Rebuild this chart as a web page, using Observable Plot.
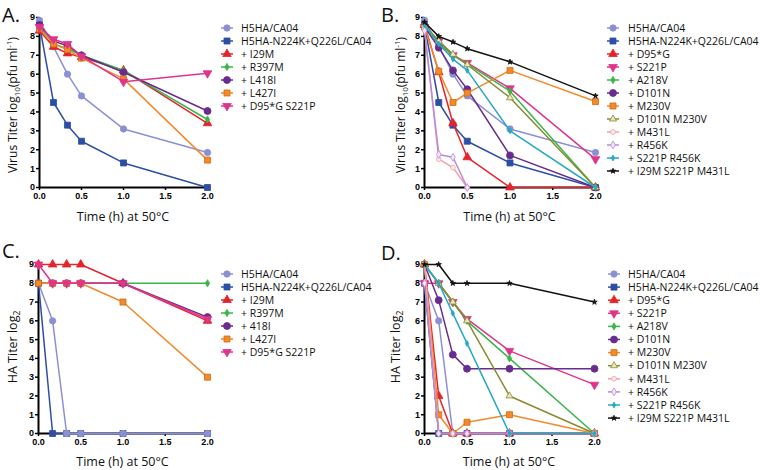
<!DOCTYPE html>
<html><head><meta charset="utf-8">
<script src="https://cdn.jsdelivr.net/npm/d3@7"></script>
<script src="https://cdn.jsdelivr.net/npm/@observablehq/plot@0.6"></script>
<style>
body{margin:0;background:#fff;}
#fig{position:relative;width:760px;height:470px;overflow:hidden;}
.panel{position:absolute;}
#overlay{position:absolute;left:0;top:0;}
</style></head><body><div id="fig"></div>
<script>
// ---- data ----
const times = [0, 0.167, 0.333, 0.5, 1.0, 2.0];
const xTicks = [0, 0.5, 1.0, 1.5, 2.0];
const yTicks = [0, 1, 2, 3, 4, 5, 6, 7, 8, 9];

const namesA = ["H5HA/CA04","H5HA-N224K+Q226L/CA04","+ I29M","+ R397M","+ L418I","+ L427I","+ D95*G S221P"];
const valuesA = [
  [8.85, 7.45, 6.0, 4.85, 3.1, 1.85],
  [8.6, 4.5, 3.3, 2.45, 1.3, 0.0],
  [8.3, 7.45, 7.1, 6.9, 6.2, 3.4],
  [8.5, 7.6, 7.35, 7.0, 6.2, 3.6],
  [8.6, 7.75, 7.5, 7.0, 6.1, 4.05],
  [8.4, 7.6, 7.3, 6.85, 5.75, 1.45],
  [8.5, 7.85, 7.6, 6.95, 5.6, 6.05]
];

const namesB = ["H5HA/CA04","H5HA-N224K+Q226L/CA04","+ D95*G","+ S221P","+ A218V","+ D101N","+ M230V","+ D101N M230V","+ M431L","+ R456K","+ S221P R456K","+ I29M S221P M431L"];
const valuesB = [
  [8.85, 7.5, 6.0, 4.85, 3.1, 1.85],
  [8.6, 4.5, 3.3, 2.45, 1.3, 0.0],
  [8.6, 6.1, 3.4, 1.6, 0.0, 0.0],
  [8.5, 7.75, 7.0, 6.6, 5.25, 1.5],
  [8.6, 7.6, 7.0, 6.55, 5.1, 0.0],
  [8.5, 7.4, 6.2, 5.2, 1.7, 0.0],
  [8.5, 6.15, 4.5, 5.0, 6.2, 4.55],
  [8.6, 7.75, 7.05, 6.5, 4.75, 0.0],
  [8.4, 1.5, 1.05, 0.0, null, null],
  [8.3, 1.75, 1.6, 0.0, null, null],
  [8.6, 7.6, 6.8, 6.2, 3.0, 0.0],
  [8.75, 8.0, 7.7, 7.35, 6.65, 4.85]
];

const namesC = ["H5HA/CA04","H5HA-N224K+Q226L/CA04","+ I29M","+ R397M","+ 418I","+ L427I","+ D95*G S221P"];
const valuesC = [
  [8, 6, 0, 0, 0, 0],
  [8, 0, 0, 0, 0, 0],
  [9, 9, 9, 9, 8, 6],
  [8, 8, 8, 8, 8, 8],
  [8, 8, 8, 8, 8, 6.2],
  [8, 8, 8, 8, 7, 3],
  [9, 8, 8, 8, 8, 6.1]
];

const namesD = namesB;
const valuesD = [
  [8, 6, 0, 0, 0, 0],
  [8, 0, 0, 0, 0, 0],
  [9, 2, 0, 0, 0, 0],
  [8, 8, 7, 6.1, 4.4, 2.6],
  [9, 8, 7, 6, 4, 0],
  [9, 7.1, 4.2, 3.45, 3.45, 3.45],
  [9, 1, 0, 0.6, 1, 0],
  [9, 8, 7, 6, 2, 0],
  [9, 0, 0, 0, 0, 0],
  [8, 0, 0, 0, 0, 0],
  [9, 8, 6.4, 4.8, 0, 0],
  [9, 9, 8, 8, 8, 7]
];

// ---- styles ----
const sqrt3 = Math.sqrt(3);
const symbolTriangleDown = {draw(ctx, size){
  const y = -Math.sqrt(size / (sqrt3 * 3));
  ctx.moveTo(0, -y * 2); ctx.lineTo(-sqrt3 * y, y); ctx.lineTo(sqrt3 * y, y); ctx.closePath();
}};
const C = {lpurple:"#8c90d3", blue:"#2d4ea5", red:"#e3242b", green:"#3cb44b", purple:"#672c8e",
  orange:"#f28a2b", magenta:"#e0348a", olive:"#8a8a30", pink:"#f2a0a8", lavender:"#b88ad8", teal:"#27a8c2", black:"#111"};
const style = {
  "H5HA/CA04": {color:C.lpurple, symbol:d3.symbolCircle, r:3.2},
  "H5HA-N224K+Q226L/CA04": {color:C.blue, symbol:d3.symbolSquare, r:3.4},
  "+ I29M": {color:C.red, symbol:d3.symbolTriangle, r:3.2},
  "+ D95*G": {color:C.red, symbol:d3.symbolTriangle, r:3.2},
  "+ R397M": {color:C.green, symbol:d3.symbolDiamond, r:2.2},
  "+ A218V": {color:C.green, symbol:d3.symbolDiamond, r:2.2},
  "+ L418I": {color:C.purple, symbol:d3.symbolCircle, r:3.5},
  "+ 418I": {color:C.purple, symbol:d3.symbolCircle, r:3.5},
  "+ D101N": {color:C.purple, symbol:d3.symbolCircle, r:3.5},
  "+ L427I": {color:C.orange, symbol:d3.symbolSquare, r:3.4, stroke:"#d26b12"},
  "+ M230V": {color:C.orange, symbol:d3.symbolSquare, r:3.4, stroke:"#d26b12"},
  "+ D95*G S221P": {color:C.magenta, symbol:symbolTriangleDown, r:3.2},
  "+ S221P": {color:C.magenta, symbol:symbolTriangleDown, r:3.2},
  "+ D101N M230V": {color:C.olive, symbol:d3.symbolTriangle, r:2.6, fill:"#e8e6c0"},
  "+ M431L": {color:C.pink, symbol:d3.symbolCircle, r:2.4, fill:"#fde8ea"},
  "+ R456K": {color:C.lavender, symbol:d3.symbolDiamond, r:2.4, fill:"#f1e6fa"},
  "+ S221P R456K": {color:C.teal, symbol:d3.symbolDiamond, r:1.8},
  "+ I29M S221P M431L": {color:C.black, symbol:d3.symbolStar, r:1.7}
};

const fig = document.getElementById("fig");

function makePanel(names, values, order, left, top, m) {
  const marks = [
    Plot.ruleX([0], {stroke:"#000", strokeWidth:2}),
    Plot.ruleY([0], {stroke:"#000", strokeWidth:2}),
    Plot.axisX({ticks:xTicks, tickFormat:d3.format(".1f"), tickSize:3, tickPadding:2, strokeWidth:1.5,
      fontWeight:"bold", fontSize:9, label:null}),
    Plot.axisY({ticks:yTicks, tickSize:3, tickPadding:1.5, strokeWidth:1.5,
      fontWeight:"bold", fontSize:9, label:null})
  ];
  order.forEach(i => {
    const name = names[i];
    const st = style[name];
    const rows = times.map((t, j) => ({t, v: values[i][j]})).filter(d => d.v != null);
    marks.push(Plot.line(rows, {x:"t", y:"v", stroke:st.color, strokeWidth:1.5}));
    marks.push(Plot.dot(rows, {x:"t", y:"v", symbol:st.symbol, r:st.r, fill:st.fill || st.color,
      stroke:st.stroke || st.color, strokeWidth:0.8}));
  });
  const svg = Plot.plot({
    width:380, height:235,
    marginLeft:m.l, marginRight:m.r, marginTop:m.t, marginBottom:m.b,
    x:{domain:[0, 2]}, y:{domain:[0, 9]},
    style:{fontFamily:"'Liberation Sans', Arial, sans-serif", fontSize:"9px", color:"#000", background:"transparent", overflow:"visible"},
    marks
  });
  const div = document.createElement("div");
  div.className = "panel";
  div.style.left = left + "px"; div.style.top = top + "px";
  div.appendChild(svg);
  fig.appendChild(div);
}

const orderTop = d3.range(12);
const orderBottom = [1, 0, ...d3.range(2, 12)];
makePanel(namesA, valuesA, orderTop.slice(0, 7), 0, 0, {l:39, r:173, t:17, b:48});
makePanel(namesB, valuesB, orderTop, 380, 0, {l:44, r:165, t:17, b:48});
makePanel(namesC, valuesC, orderBottom.slice(0, 7), 0, 235, {l:38, r:173, t:29, b:37});
makePanel(namesD, valuesD, orderBottom, 380, 235, {l:44, r:166, t:29, b:37});

// ---- overlay texts and legends ----
const ov = d3.select(fig).append("svg").attr("id","overlay").attr("width",760).attr("height",470)
  .style("font-family","'Open Sans', sans-serif").style("fill","#111");

[["A.",2,22],["B.",381,22],["C.",2,258],["D.",381,260]].forEach(([t,x,y]) =>
  ov.append("text").attr("x",x).attr("y",y).attr("font-size",20).text(t));

[[123,221],[509.5,221],[122.5,466],[509,466]].forEach(([x,y]) =>
  ov.append("text").attr("x",x).attr("y",y).attr("text-anchor","middle").attr("font-size",12.5).text("Time (h) at 50°C"));

function virusTitle(x, y) {
  const t = ov.append("text").attr("transform",`translate(${x},${y}) rotate(-90)`).attr("y",4.5)
    .attr("text-anchor","middle").attr("font-size",12);
  t.append("tspan").text("Virus Titer log");
  t.append("tspan").attr("font-size",8).attr("dy",3).text("10");
  t.append("tspan").attr("dy",-3).text("(pfu ml");
  t.append("tspan").attr("font-size",8).attr("dy",-5).text("-1");
  t.append("tspan").attr("dy",5).text(")");
}
function haTitle(x, y) {
  const t = ov.append("text").attr("transform",`translate(${x},${y}) rotate(-90)`).attr("y",4.5)
    .attr("text-anchor","middle").attr("font-size",12.5);
  t.append("tspan").text("HA Titer log");
  t.append("tspan").attr("font-size",8.5).attr("dy",3).text("2");
}
virusTitle(12.5, 105);
virusTitle(400, 105);
haTitle(12, 347);
haTitle(395, 347);

function legend(names, mx, tx, y0, dy) {
  names.forEach((n, i) => {
    const st = style[n], y = y0 + i * dy;
    ov.append("line").attr("x1",mx-6).attr("x2",mx+6).attr("y1",y).attr("y2",y)
      .attr("stroke",st.color).attr("stroke-width",1.5);
    ov.append("path").attr("transform",`translate(${mx},${y})`)
      .attr("d", d3.symbol(st.symbol, Math.PI*st.r*st.r)())
      .attr("fill", st.fill || st.color).attr("stroke", st.stroke || st.color).attr("stroke-width",0.8);
    ov.append("text").attr("x",tx).attr("y",y).attr("dy","0.36em").attr("font-size",10.5).text(n);
  });
}
legend(namesA, 227, 241, 28, 13);
legend(namesB, 613, 628, 28, 13);
legend(namesC, 227, 241, 274, 13);
legend(namesD, 614, 628, 274, 13.1);
</script></body></html>
